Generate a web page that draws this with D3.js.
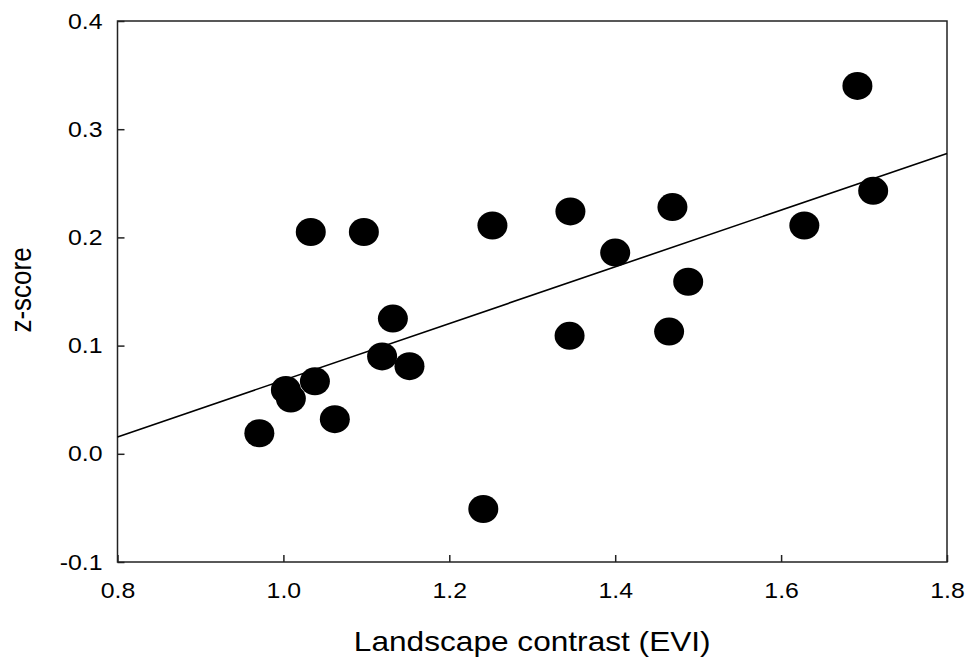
<!DOCTYPE html>
<html>
<head>
<meta charset="utf-8">
<script src="https://cdn.jsdelivr.net/npm/d3@7"></script>
<style>
  body { margin: 0; background: #fff; }
  text { font-family: "Liberation Sans", Arial, sans-serif; fill: #000; }
</style>
</head>
<body>
<div id="chart"></div>
<script>
// landscape contrast (EVI) vs z-score, one entry per site
const evi = [0.971, 1.003, 1.009, 1.038, 1.062, 1.033, 1.097, 1.132, 1.119, 1.152, 1.241,
  1.252, 1.346, 1.345, 1.400, 1.469, 1.465, 1.488, 1.628, 1.692, 1.711];
const zScore = [0.019, 0.059, 0.051, 0.067, 0.032, 0.205, 0.205, 0.125, 0.090, 0.081, -0.051,
  0.211, 0.224, 0.109, 0.186, 0.228, 0.113, 0.159, 0.211, 0.340, 0.243];

// fitted line z = intercept + slope * evi
const fitSlope = 0.262;
const fitIntercept = -0.194;

const xTicks = [0.8, 1.0, 1.2, 1.4, 1.6, 1.8];
const yTicks = [-0.1, 0.0, 0.1, 0.2, 0.3, 0.4];

const margin = { top: 21, right: 22, bottom: 99, left: 117.5 };
const W = 969, H = 661;
const width = W - margin.left - margin.right;
const height = H - margin.top - margin.bottom;
const stretch = 1.13; // text in the source is a bit wide

const svg = d3.select("#chart").append("svg")
  .attr("width", W).attr("height", H);
const g = svg.append("g")
  .attr("transform", `translate(${margin.left},${margin.top})`);

const x = d3.scaleLinear().domain([0.8, 1.8]).range([0, width]);
const y = d3.scaleLinear().domain([-0.1, 0.4]).range([height, 0]);

const xAxis = g.append("g")
  .attr("transform", `translate(0,${height})`)
  .call(d3.axisBottom(x).tickValues(xTicks).tickFormat(d3.format(".1f"))
    .tickSizeInner(-7).tickSizeOuter(0).tickPadding(20));
const yAxis = g.append("g")
  .call(d3.axisLeft(y).tickValues(yTicks).tickFormat(d => d3.format(".1f")(d).replace("−", "-"))
    .tickSizeInner(-7).tickSizeOuter(0).tickPadding(15 / stretch));

[xAxis, yAxis].forEach(a => {
  a.select(".domain").remove();
  a.selectAll(".tick line").attr("stroke", "#222").attr("stroke-width", 1.5);
  a.selectAll(".tick text")
    .style("font-family", '"Liberation Sans", Arial, sans-serif')
    .style("font-size", "22px")
    .attr("fill", "#000")
    .attr("transform", `scale(${stretch},1)`);
});

// frame
g.append("rect")
  .attr("width", width).attr("height", height)
  .attr("fill", "none").attr("stroke", "#222").attr("stroke-width", 1.5);

// regression line
g.append("line")
  .attr("x1", x(0.8)).attr("y1", y(fitIntercept + fitSlope * 0.8))
  .attr("x2", x(1.8)).attr("y2", y(fitIntercept + fitSlope * 1.8))
  .attr("stroke", "#000").attr("stroke-width", 1.6);

// points
g.selectAll("ellipse")
  .data(evi.map((d, i) => ({ x: d, z: zScore[i] })))
  .enter().append("ellipse")
  .attr("cx", d => x(d.x))
  .attr("cy", d => y(d.z))
  .attr("rx", 15)
  .attr("ry", 14)
  .attr("fill", "#000");

// axis titles
svg.append("text")
  .attr("transform", `translate(${margin.left + width / 2},651) scale(${stretch},1)`)
  .attr("text-anchor", "middle")
  .style("font-size", "28px")
  .text("Landscape contrast (EVI)");

svg.append("text")
  .attr("transform", `translate(31,290) scale(${stretch},1) rotate(-90)`)
  .attr("text-anchor", "middle")
  .style("font-size", "26px")
  .text("z-score");
</script>
</body>
</html>
